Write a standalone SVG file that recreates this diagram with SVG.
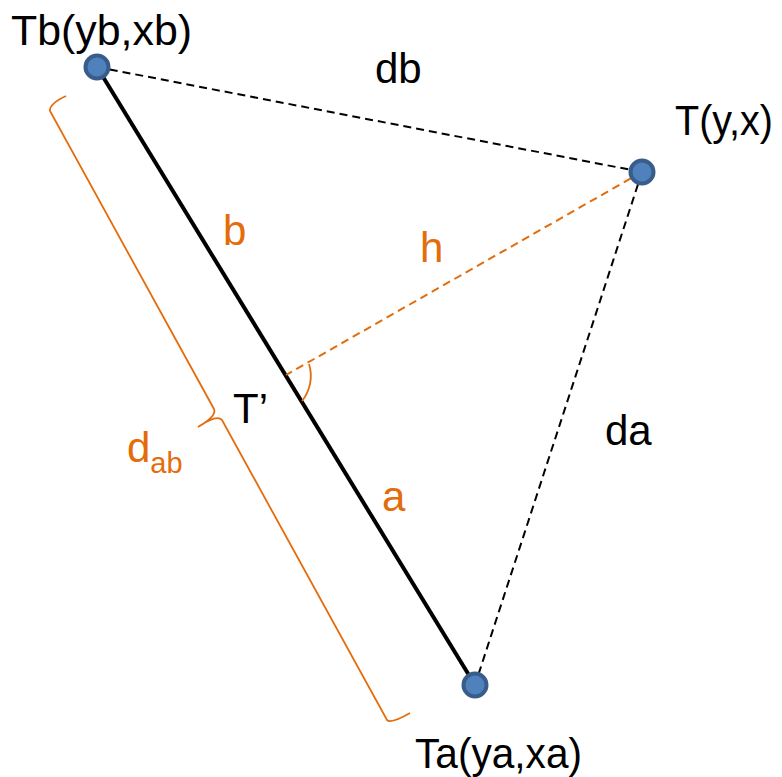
<svg xmlns="http://www.w3.org/2000/svg" width="782" height="777" viewBox="0 0 782 777">
<style>
.lbl{font-family:"Liberation Sans",Arial,sans-serif;font-size:42px;fill:#000}
.or{fill:#E46C0A}
.node{fill:#4F81BD;stroke:#385D8A;stroke-width:4}
.dash{fill:none;stroke:#000;stroke-width:2;stroke-dasharray:8 5}
.odash{fill:none;stroke:#E46C0A;stroke-width:2;stroke-dasharray:8 5}
.orl{fill:none;stroke:#E46C0A;stroke-width:1.8}
</style>
<rect width="782" height="777" fill="#fff"/>
<g id="connectors">
<line x1="97" y1="67" x2="475" y2="685" stroke="#000" stroke-width="4"/>
<line class="dash" x1="97" y1="67" x2="642" y2="172"/>
<line class="dash" x1="642" y1="172" x2="475" y2="685"/>
<line class="odash" x1="642" y1="172" x2="286" y2="375"/>
<path class="orl" d="M309,364 A40,40 0 0 1 302,401"/>
<path class="orl" d="M66,96 Q49,104 50,111 L214,409 Q217,416 198,427 Q217,414 222,420 L387,720 Q391,724 410,713"/>
</g>
<g id="node-Tb">
<circle class="node" cx="97" cy="67" r="11.5"/>
<text class="lbl" x="11" y="45" textLength="181" lengthAdjust="spacingAndGlyphs">Tb(yb,xb)</text>
</g>
<g id="node-T">
<circle class="node" cx="642" cy="172" r="11.5"/>
<text class="lbl" x="675" y="135" textLength="98" lengthAdjust="spacingAndGlyphs">T(y,x)</text>
</g>
<g id="node-Ta">
<circle class="node" cx="475" cy="685" r="11.5"/>
<text class="lbl" x="415" y="768" textLength="167" lengthAdjust="spacingAndGlyphs">Ta(ya,xa)</text>
</g>
<g id="labels">
<text class="lbl" x="375" y="83">db</text>
<text class="lbl" x="605" y="445">da</text>
<text class="lbl" x="233" y="423">T’</text>
<text class="lbl or" x="223" y="245">b</text>
<text class="lbl or" x="420" y="262">h</text>
<text class="lbl or" x="382" y="511">a</text>
<text class="lbl or" x="127" y="462">d<tspan font-size="29" y="473">ab</tspan></text>
</g>
</svg>
